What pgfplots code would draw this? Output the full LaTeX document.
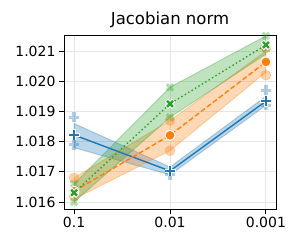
\documentclass[border=0pt]{standalone}
\usepackage{pgfplots}
\pgfplotsset{compat=1.18}
\usepackage{fontspec}
\setmainfont{DejaVu Sans}
\definecolor{tblue}{HTML}{1F77B4}
\definecolor{torange}{HTML}{FF7F0E}
\definecolor{tgreen}{HTML}{2CA02C}
\definecolor{gridc}{HTML}{E6E6E6}
\begin{document}
\begin{tikzpicture}[x=1pt,y=1pt]
\path[use as bounding box] (-64,-41) rectangle (236,209);
\begin{axis}[at={(0,0)}, anchor=south west, scale only axis,
  width=212pt, height=174pt,
  xmin=-0.105, xmax=2.105, ymin=1.01577, ymax=1.02153,
  xtick={0,1,2}, xticklabels={0.1,0.01,0.001},
  ytick={1.016,1.017,1.018,1.019,1.020,1.021},
  yticklabels={1.016,1.017,1.018,1.019,1.020,1.021},
  tick pos=left, tick align=outside,
  major tick length=5pt,
  every tick/.style={black, line width=0.9pt},
  grid=major, grid style={gridc, line width=0.9pt},
  axis line style={line width=0.9pt},
  ticklabel style={font=\fontsize{14}{16}\selectfont},
  /pgf/number format/assume math mode=true,
  title={Jacobian norm},
  title style={font=\fontsize{16.5}{19}\selectfont, yshift=-2pt},
  clip=false,
]
% bands
\addplot[draw=tblue, line width=1pt, draw opacity=0.3, fill=tblue, fill opacity=0.3] coordinates {(0,1.0178)(1,1.01690)(2,1.01920)(2,1.01950)(1,1.01716)(0,1.0186)} -- cycle;
\addplot[draw=torange, line width=1pt, draw opacity=0.3, fill=torange, fill opacity=0.3] coordinates {(0,1.0161)(1,1.0177)(2,1.0203)(2,1.0210)(1,1.0187)(0,1.0168)} -- cycle;
\addplot[draw=tgreen, line width=1pt, draw opacity=0.3, fill=tgreen, fill opacity=0.3] coordinates {(0,1.0160)(1,1.0188)(2,1.0209)(2,1.0215)(1,1.0198)(0,1.0166)} -- cycle;
% seed markers
\addplot[only marks, mark=+, mark size=5pt, opacity=0.35, mark options={tblue, line width=3.2pt}] coordinates {(0,1.0188)(0,1.0179)(1,1.0169)(2,1.0197)(2,1.0192)};
\addplot[only marks, mark=*, mark size=5pt, opacity=0.35, mark options={fill=torange, draw=torange}] coordinates {(0,1.0168)(0,1.0162)(1,1.0177)(1,1.0187)(2,1.0202)(2,1.0211)};
\addplot[only marks, mark=x, mark size=4.5pt, opacity=0.35, mark options={tgreen, line width=3.2pt}] coordinates {(0,1.0160)(0,1.0166)(1,1.0198)(1,1.0188)(2,1.0215)(2,1.0211)};
% mean lines
\addplot[tblue, line width=1.4pt, solid] coordinates {(0,1.01822)(1,1.01703)(2,1.01934)};
\addplot[torange, line width=1.4pt, dashed, dash pattern=on 5pt off 2.5pt] coordinates {(0,1.01636)(1,1.01821)(2,1.02064)};
\addplot[tgreen, line width=1.4pt, dash pattern=on 1.5pt off 2.5pt] coordinates {(0,1.01631)(1,1.01925)(2,1.0212)};
% mean markers
\addplot[only marks, mark=+, mark size=5.5pt, mark options={white, line width=4.6pt}] coordinates {(0,1.01822)(1,1.01703)(2,1.01934)};
\addplot[only marks, mark=+, mark size=4.7pt, mark options={tblue, line width=2.4pt}] coordinates {(0,1.01822)(1,1.01703)(2,1.01934)};
\addplot[only marks, mark=*, mark size=5pt, mark options={fill=torange, draw=white, line width=1pt}] coordinates {(0,1.01636)(1,1.01821)(2,1.02064)};
\addplot[only marks, mark=x, mark size=5pt, mark options={white, line width=4.6pt}] coordinates {(0,1.01631)(1,1.01925)(2,1.0212)};
\addplot[only marks, mark=x, mark size=4.2pt, mark options={tgreen, line width=2.4pt}] coordinates {(0,1.01631)(1,1.01925)(2,1.0212)};
\end{axis}
\end{tikzpicture}
\end{document}
